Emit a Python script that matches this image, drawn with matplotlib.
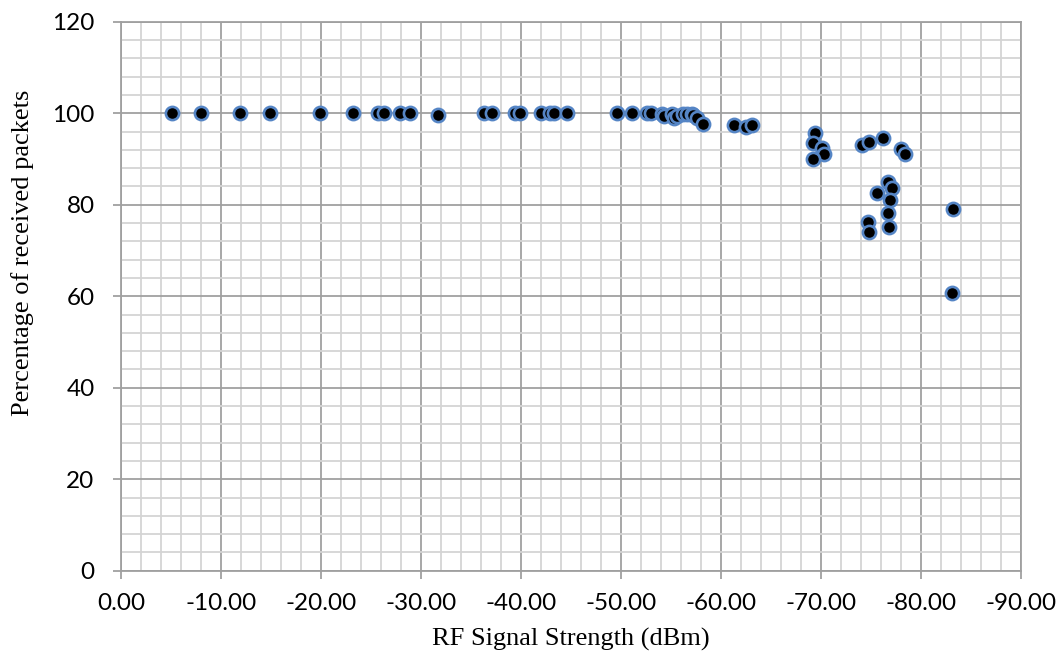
import matplotlib.pyplot as plt
from matplotlib.ticker import MultipleLocator, FormatStrFormatter

#   readings taken off the reference chart (dBm, % packets received)
rf_dbm = [-5.1, -8.0, -11.9, -14.9, -19.9, -23.2, -25.7, -26.3, -27.9, -28.9,
          -31.7, -36.3, -37.1, -39.4, -39.9, -42.0, -42.9, -43.3, -44.6,
          -49.6, -51.1, -52.6, -53.0, -54.1, -54.3, -55.1, -55.3, -55.6,
          -56.2, -56.6, -57.1, -57.2, -57.6, -58.2, -61.3, -62.5, -63.1,
          -69.4, -69.2, -70.1, -70.3, -69.2, -74.1, -74.8, -76.2, -78.0,
          -78.4, -76.7, -77.1, -75.6, -76.9, -76.7, -76.8, -74.7, -74.8,
          -83.2, -83.1]
received_pct = [100, 100, 100, 100, 100, 100, 100, 100, 100, 100,
                99.5, 100, 100, 100, 100, 100, 100, 100, 100,
                100, 100, 100, 100, 99.9, 99.4, 99.9, 98.9, 99.4,
                99.9, 99.9, 99.9, 99.5, 98.9, 97.6, 97.5, 97.0, 97.5,
                95.6, 93.4, 92.3, 91.1, 90.0, 93.0, 93.6, 94.6, 92.1,
                91.1, 85.0, 83.7, 82.5, 81.0, 78.1, 75.1, 76.2, 74.1,
                79.1, 60.6]

major_col = "#a0a0a0"
minor_col = "#d4d4d4"

fig = plt.figure(figsize=(10.6, 6.6), dpi=100)
ax = fig.add_axes([121 / 1060, (660 - 570.7) / 660, 900 / 1060, 549 / 660])

ax.plot(rf_dbm, received_pct, ls="none", marker="o", ms=9.5, mfc="black",
        mec="#5585c5", mew=1.9, zorder=3)

ax.set_xlim(0, -90)
ax.set_ylim(0, 120)
ax.xaxis.set_major_locator(MultipleLocator(10))
ax.xaxis.set_minor_locator(MultipleLocator(2))
ax.yaxis.set_major_locator(MultipleLocator(20))
ax.yaxis.set_minor_locator(MultipleLocator(4))
ax.xaxis.set_major_formatter(FormatStrFormatter("%.2f"))

ax.grid(which="major", color=major_col, lw=1.3)
ax.grid(which="minor", color=minor_col, lw=1.3)
ax.set_axisbelow(True)
for s in ax.spines.values():
    s.set_color(major_col)
    s.set_linewidth(1.3)

ax.tick_params(which="major", length=6, width=1.3, color=major_col,
               labelsize=17.5)
ax.tick_params(axis="x", which="major", pad=10)
ax.tick_params(axis="y", which="major", pad=13)
ax.tick_params(which="minor", length=0)
for lab in ax.get_xticklabels() + ax.get_yticklabels():
    lab.set_family("Lato")

ax.set_xlabel("RF Signal Strength (dBm)", family="Liberation Serif",
              fontsize=19)
ax.set_ylabel("Percentage of received packets", family="Liberation Serif",
              fontsize=19)
ax.xaxis.set_label_coords(0.5, -0.105)
ax.yaxis.set_label_coords(-0.097, 0.579)

fig.savefig("out.png", dpi=100)
